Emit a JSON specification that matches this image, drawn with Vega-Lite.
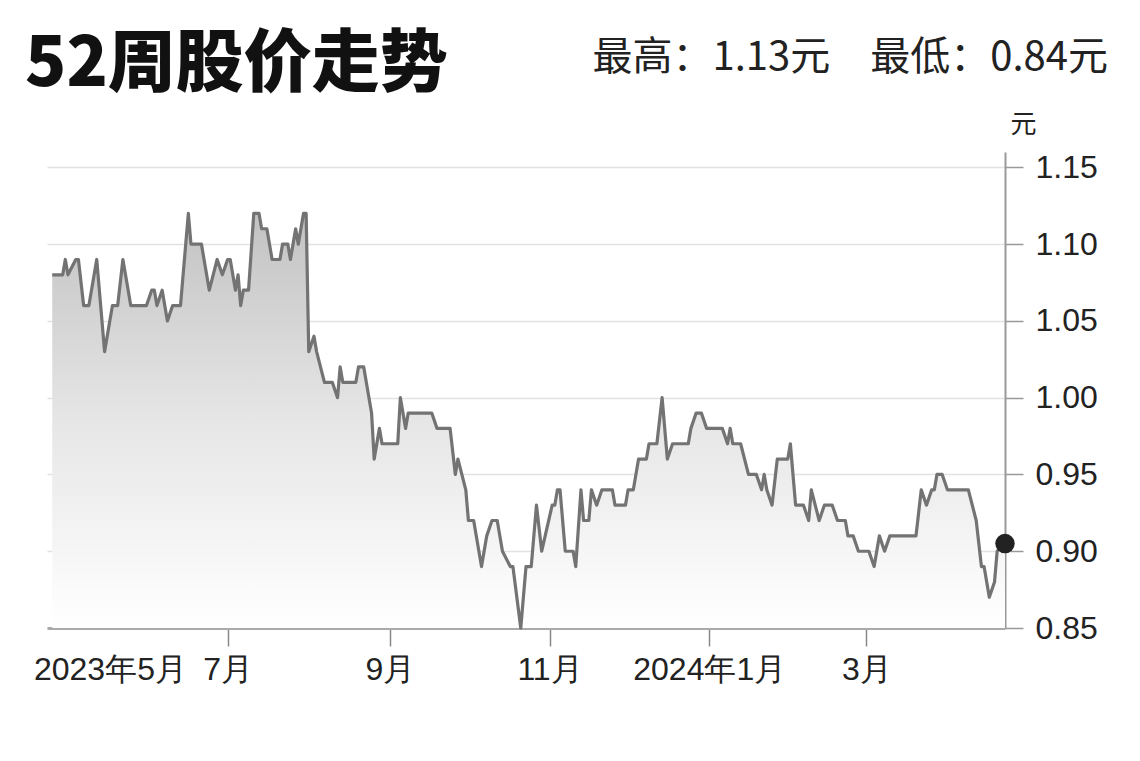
{
  "$schema": "https://vega.github.io/schema/vega-lite/v6.json",
  "autosize": {"type": "none"},
  "padding": {"left": 47, "top": 152, "right": 135, "bottom": 133},
  "width": 958,
  "height": 476,
  "background": "white",
  "config": {"view": {"stroke": null}},
  "title": {
    "text": "52周股价走势",
    "anchor": "start",
    "frame": "group",
    "font": "Noto Sans CJK SC",
    "fontSize": 68,
    "fontWeight": 900,
    "color": "#111111",
    "dx": -22,
    "offset": -62
  },
  "datasets": {
    "prices": [
      {"date": "2023-04-25", "price": 1.08},
      {"date": "2023-04-29", "price": 1.08},
      {"date": "2023-04-30", "price": 1.09},
      {"date": "2023-05-01", "price": 1.08},
      {"date": "2023-05-04", "price": 1.09},
      {"date": "2023-05-05", "price": 1.09},
      {"date": "2023-05-07", "price": 1.06},
      {"date": "2023-05-09", "price": 1.06},
      {"date": "2023-05-12", "price": 1.09},
      {"date": "2023-05-15", "price": 1.03},
      {"date": "2023-05-18", "price": 1.06},
      {"date": "2023-05-20", "price": 1.06},
      {"date": "2023-05-22", "price": 1.09},
      {"date": "2023-05-25", "price": 1.06},
      {"date": "2023-05-31", "price": 1.06},
      {"date": "2023-06-02", "price": 1.07},
      {"date": "2023-06-03", "price": 1.07},
      {"date": "2023-06-04", "price": 1.06},
      {"date": "2023-06-06", "price": 1.07},
      {"date": "2023-06-08", "price": 1.05},
      {"date": "2023-06-10", "price": 1.06},
      {"date": "2023-06-13", "price": 1.06},
      {"date": "2023-06-16", "price": 1.12},
      {"date": "2023-06-17", "price": 1.10},
      {"date": "2023-06-21", "price": 1.10},
      {"date": "2023-06-24", "price": 1.07},
      {"date": "2023-06-27", "price": 1.09},
      {"date": "2023-06-29", "price": 1.08},
      {"date": "2023-07-01", "price": 1.09},
      {"date": "2023-07-02", "price": 1.09},
      {"date": "2023-07-04", "price": 1.07},
      {"date": "2023-07-05", "price": 1.08},
      {"date": "2023-07-06", "price": 1.06},
      {"date": "2023-07-07", "price": 1.07},
      {"date": "2023-07-09", "price": 1.07},
      {"date": "2023-07-11", "price": 1.12},
      {"date": "2023-07-13", "price": 1.12},
      {"date": "2023-07-14", "price": 1.11},
      {"date": "2023-07-16", "price": 1.11},
      {"date": "2023-07-18", "price": 1.09},
      {"date": "2023-07-21", "price": 1.09},
      {"date": "2023-07-22", "price": 1.10},
      {"date": "2023-07-24", "price": 1.10},
      {"date": "2023-07-25", "price": 1.09},
      {"date": "2023-07-27", "price": 1.11},
      {"date": "2023-07-28", "price": 1.10},
      {"date": "2023-07-30", "price": 1.12},
      {"date": "2023-07-31", "price": 1.12},
      {"date": "2023-08-01", "price": 1.03},
      {"date": "2023-08-03", "price": 1.04},
      {"date": "2023-08-04", "price": 1.03},
      {"date": "2023-08-07", "price": 1.01},
      {"date": "2023-08-10", "price": 1.01},
      {"date": "2023-08-12", "price": 1.00},
      {"date": "2023-08-13", "price": 1.02},
      {"date": "2023-08-14", "price": 1.01},
      {"date": "2023-08-19", "price": 1.01},
      {"date": "2023-08-20", "price": 1.02},
      {"date": "2023-08-22", "price": 1.02},
      {"date": "2023-08-24", "price": 1.00},
      {"date": "2023-08-25", "price": 0.99},
      {"date": "2023-08-26", "price": 0.96},
      {"date": "2023-08-28", "price": 0.98},
      {"date": "2023-08-29", "price": 0.97},
      {"date": "2023-09-04", "price": 0.97},
      {"date": "2023-09-05", "price": 1.00},
      {"date": "2023-09-07", "price": 0.98},
      {"date": "2023-09-08", "price": 0.99},
      {"date": "2023-09-17", "price": 0.99},
      {"date": "2023-09-19", "price": 0.98},
      {"date": "2023-09-24", "price": 0.98},
      {"date": "2023-09-26", "price": 0.95},
      {"date": "2023-09-27", "price": 0.96},
      {"date": "2023-09-30", "price": 0.94},
      {"date": "2023-10-01", "price": 0.92},
      {"date": "2023-10-03", "price": 0.92},
      {"date": "2023-10-06", "price": 0.89},
      {"date": "2023-10-08", "price": 0.91},
      {"date": "2023-10-10", "price": 0.92},
      {"date": "2023-10-12", "price": 0.92},
      {"date": "2023-10-14", "price": 0.90},
      {"date": "2023-10-17", "price": 0.89},
      {"date": "2023-10-18", "price": 0.89},
      {"date": "2023-10-21", "price": 0.85},
      {"date": "2023-10-23", "price": 0.89},
      {"date": "2023-10-25", "price": 0.89},
      {"date": "2023-10-27", "price": 0.93},
      {"date": "2023-10-29", "price": 0.90},
      {"date": "2023-11-02", "price": 0.93},
      {"date": "2023-11-03", "price": 0.93},
      {"date": "2023-11-04", "price": 0.94},
      {"date": "2023-11-05", "price": 0.94},
      {"date": "2023-11-07", "price": 0.90},
      {"date": "2023-11-10", "price": 0.90},
      {"date": "2023-11-11", "price": 0.89},
      {"date": "2023-11-13", "price": 0.94},
      {"date": "2023-11-14", "price": 0.92},
      {"date": "2023-11-16", "price": 0.92},
      {"date": "2023-11-17", "price": 0.94},
      {"date": "2023-11-19", "price": 0.93},
      {"date": "2023-11-21", "price": 0.94},
      {"date": "2023-11-25", "price": 0.94},
      {"date": "2023-11-26", "price": 0.93},
      {"date": "2023-11-30", "price": 0.93},
      {"date": "2023-12-01", "price": 0.94},
      {"date": "2023-12-03", "price": 0.94},
      {"date": "2023-12-05", "price": 0.96},
      {"date": "2023-12-08", "price": 0.96},
      {"date": "2023-12-09", "price": 0.97},
      {"date": "2023-12-12", "price": 0.97},
      {"date": "2023-12-14", "price": 1.00},
      {"date": "2023-12-16", "price": 0.96},
      {"date": "2023-12-18", "price": 0.97},
      {"date": "2023-12-24", "price": 0.97},
      {"date": "2023-12-25", "price": 0.98},
      {"date": "2023-12-27", "price": 0.99},
      {"date": "2023-12-29", "price": 0.99},
      {"date": "2023-12-31", "price": 0.98},
      {"date": "2024-01-06", "price": 0.98},
      {"date": "2024-01-08", "price": 0.97},
      {"date": "2024-01-09", "price": 0.98},
      {"date": "2024-01-10", "price": 0.97},
      {"date": "2024-01-13", "price": 0.97},
      {"date": "2024-01-16", "price": 0.95},
      {"date": "2024-01-19", "price": 0.95},
      {"date": "2024-01-21", "price": 0.94},
      {"date": "2024-01-22", "price": 0.95},
      {"date": "2024-01-23", "price": 0.94},
      {"date": "2024-01-25", "price": 0.93},
      {"date": "2024-01-27", "price": 0.96},
      {"date": "2024-01-31", "price": 0.96},
      {"date": "2024-02-01", "price": 0.97},
      {"date": "2024-02-03", "price": 0.93},
      {"date": "2024-02-06", "price": 0.93},
      {"date": "2024-02-08", "price": 0.92},
      {"date": "2024-02-09", "price": 0.94},
      {"date": "2024-02-12", "price": 0.92},
      {"date": "2024-02-14", "price": 0.93},
      {"date": "2024-02-17", "price": 0.93},
      {"date": "2024-02-19", "price": 0.92},
      {"date": "2024-02-22", "price": 0.92},
      {"date": "2024-02-23", "price": 0.91},
      {"date": "2024-02-25", "price": 0.91},
      {"date": "2024-02-27", "price": 0.90},
      {"date": "2024-03-02", "price": 0.90},
      {"date": "2024-03-04", "price": 0.89},
      {"date": "2024-03-06", "price": 0.91},
      {"date": "2024-03-08", "price": 0.90},
      {"date": "2024-03-10", "price": 0.91},
      {"date": "2024-03-20", "price": 0.91},
      {"date": "2024-03-22", "price": 0.94},
      {"date": "2024-03-24", "price": 0.93},
      {"date": "2024-03-26", "price": 0.94},
      {"date": "2024-03-27", "price": 0.94},
      {"date": "2024-03-28", "price": 0.95},
      {"date": "2024-03-30", "price": 0.95},
      {"date": "2024-04-01", "price": 0.94},
      {"date": "2024-04-09", "price": 0.94},
      {"date": "2024-04-12", "price": 0.92},
      {"date": "2024-04-14", "price": 0.89},
      {"date": "2024-04-15", "price": 0.89},
      {"date": "2024-04-17", "price": 0.87},
      {"date": "2024-04-19", "price": 0.88},
      {"date": "2024-04-20", "price": 0.90},
      {"date": "2024-04-23", "price": 0.905}
    ],
    "latest": [
      {"date": "2024-04-23", "price": 0.905}
    ],
    "extremes": [
      {"note": "最高：1.13元　最低：0.84元", "date": "2024-04-23", "price": 1.16}
    ]
  },
  "encoding": {
    "x": {
      "field": "date",
      "type": "temporal",
      "scale": {
        "type": "utc",
        "domain": [
          {"year": 2023, "month": 4, "date": 23, "utc": true},
          {"year": 2024, "month": 4, "date": 23, "utc": true}
        ]
      },
      "axis": {
        "title": null,
        "grid": false,
        "values": [
          {"year": 2023, "month": 5, "date": 1, "utc": true},
          {"year": 2023, "month": 7, "date": 1, "utc": true},
          {"year": 2023, "month": 9, "date": 1, "utc": true},
          {"year": 2023, "month": 11, "date": 1, "utc": true},
          {"year": 2024, "month": 1, "date": 1, "utc": true},
          {"year": 2024, "month": 3, "date": 1, "utc": true}
        ],
        "labelExpr": "utcmonth(datum.value) == 0 || utcmonth(datum.value) == 4 ? utcFormat(datum.value, '%Y年%-m月') : utcFormat(datum.value, '%-m月')",
        "labelOffset": {"condition": {"test": "utcmonth(datum.value) == 4", "value": 42}, "value": 0},
        "tickOpacity": {"condition": {"test": "utcmonth(datum.value) == 4", "value": 0}, "value": 1},
        "labelOverlap": false,
        "labelFlush": false,
        "labelFont": "Liberation Sans",
        "labelFontSize": 32,
        "labelColor": "#222222",
        "labelPadding": 8,
        "domainColor": "#aaaaaa",
        "domainWidth": 3,
        "tickColor": "#888888",
        "tickSize": 18,
        "tickWidth": 1.5
      }
    }
  },
  "layer": [
    {
      "data": {"name": "prices"},
      "mark": {
        "type": "area",
        "color": {
          "gradient": "linear",
          "x1": 0, "y1": 0, "x2": 0, "y2": 1,
          "stops": [
            {"offset": 0, "color": "#c2c2c2"},
            {"offset": 0.5, "color": "#e6e6e6"},
            {"offset": 1, "color": "#ffffff"}
          ]
        }
      },
      "encoding": {
        "y": {
          "field": "price",
          "type": "quantitative",
          "scale": {"domain": [0.85, 1.16], "zero": false, "nice": false},
          "axis": {
            "orient": "right",
            "values": [0.85, 0.9, 0.95, 1.0, 1.05, 1.1, 1.15],
            "format": ".2f",
            "title": "元",
            "titleAngle": 0,
            "titleAlign": "center",
            "titleBaseline": "alphabetic",
            "titleX": 18,
            "titleY": -20,
            "titleFont": "Noto Sans CJK SC",
            "titleFontSize": 26,
            "titleFontWeight": "normal",
            "titleColor": "#222222",
            "grid": true,
            "gridColor": "#e2e2e2",
            "gridWidth": 1.5,
            "domainColor": "#999999",
            "domainWidth": 2,
            "tickColor": "#999999",
            "tickSize": 18,
            "tickWidth": 1.5,
            "labelFont": "Liberation Sans",
            "labelFontSize": 32,
            "labelColor": "#222222",
            "labelPadding": 12,
            "labelBaseline": "middle"
          }
        },
        "y2": {"datum": 0.85}
      }
    },
    {
      "data": {"name": "prices"},
      "mark": {"type": "line", "color": "#737373", "strokeWidth": 3.2, "strokeJoin": "round"},
      "encoding": {
        "y": {"field": "price", "type": "quantitative"}
      }
    },
    {
      "data": {"name": "latest"},
      "mark": {"type": "point", "filled": true, "color": "#222222", "opacity": 1, "size": 380},
      "encoding": {
        "y": {"field": "price", "type": "quantitative"}
      }
    },
    {
      "data": {"name": "extremes"},
      "mark": {
        "type": "text",
        "align": "right",
        "baseline": "alphabetic",
        "font": "Noto Sans CJK SC",
        "fontSize": 40,
        "color": "#222222",
        "dx": 103,
        "dy": -82,
        "clip": false
      },
      "encoding": {
        "y": {"field": "price", "type": "quantitative"},
        "text": {"field": "note", "type": "nominal"}
      }
    }
  ]
}
